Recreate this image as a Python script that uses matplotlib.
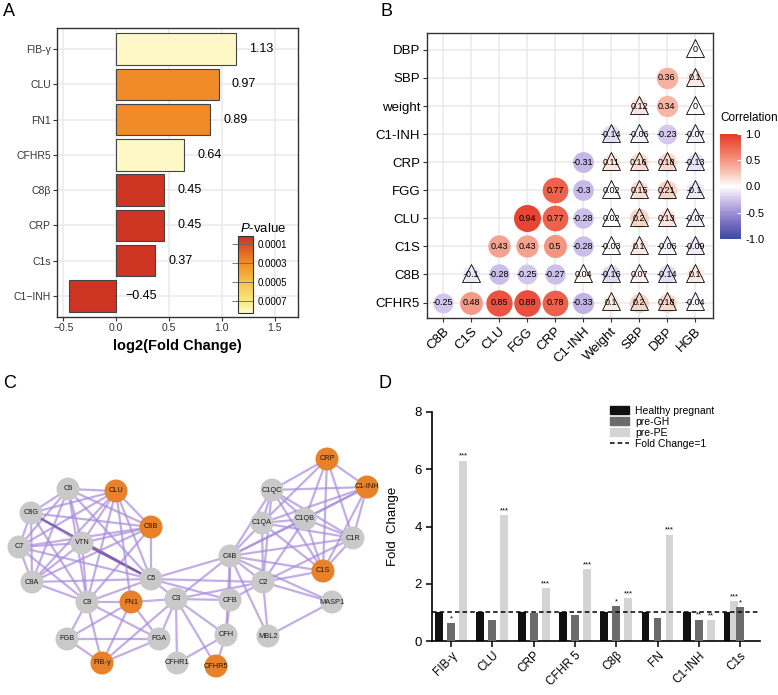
import numpy as np
import matplotlib
matplotlib.use("Agg")
import matplotlib.pyplot as plt
from matplotlib.colors import LinearSegmentedColormap, Normalize
from matplotlib.patches import Patch
from matplotlib.lines import Line2D
import matplotlib.colorbar as mcolorbar

plt.rcParams['font.family'] = ['Liberation Sans', 'DejaVu Sans']
plt.rcParams['mathtext.fontset'] = 'custom'
plt.rcParams['mathtext.rm'] = 'Liberation Sans'
plt.rcParams['mathtext.it'] = 'Liberation Sans:italic'

# ---------- data: panel A ----------
a_genes = ["FIB-γ", "CLU", "FN1", "CFHR5", "C8β", "CRP", "C1s", "C1\u2212INH"]
a_logfc = [1.13, 0.97, 0.89, 0.64, 0.45, 0.45, 0.37, -0.45]
a_pval = [0.00082, 0.0003, 0.0003, 0.00082, 0.00003, 0.00003, 0.00003, 0.00003]

# ---------- data: panel B ----------
b_rows = ["CFHR5", "C8B", "C1S", "CLU", "FGG", "CRP", "C1-INH", "weight", "SBP", "DBP"]
b_cols = ["C8B", "C1S", "CLU", "FGG", "CRP", "C1-INH", "Weight", "SBP", "DBP", "HGB"]
b_corr = [
    [-0.25, 0.48, 0.85, 0.88, 0.78, -0.33, 0.1, 0.2, 0.18, -0.04],
    [-0.1, -0.28, -0.25, -0.27, 0.04, -0.16, 0.07, -0.14, 0.1],
    [0.43, 0.43, 0.5, -0.28, -0.03, 0.1, -0.06, -0.09],
    [0.94, 0.77, -0.28, 0.02, 0.2, 0.13, -0.07],
    [0.77, -0.3, 0.02, 0.15, 0.21, -0.1],
    [-0.31, 0.11, 0.16, 0.18, -0.13],
    [-0.14, -0.06, -0.23, -0.07],
    [0.12, 0.34, 0],
    [0.36, 0.1],
    [0],
]
b_sig = [
    [1, 1, 1, 1, 1, 1, 0, 0, 0, 0],
    [0, 1, 1, 1, 0, 0, 0, 0, 0],
    [1, 1, 1, 1, 0, 0, 0, 0],
    [1, 1, 1, 0, 0, 0, 0],
    [1, 1, 0, 0, 0, 0],
    [1, 0, 0, 0, 0],
    [0, 0, 1, 0],
    [0, 1, 0],
    [1, 0],
    [0],
]

# ---------- data: panel C (network layout) ----------
c_names = ["C6", "CLU", "C8G", "C8B", "C7", "VTN", "C8A", "C5", "C9", "FN1", "C3",
           "FGB", "FGA", "FIB-γ", "CFHR1", "CRP", "C1QC", "C1-INH", "C1QA", "C1QB",
           "C1R", "C4B", "C1S", "C2", "CFB", "MASP1", "CFH", "MBL2", "CFHR5"]
c_x = [68, 116, 31, 151, 19, 82, 32, 151, 87, 131, 176, 67, 159, 102, 177,
       327, 272, 367, 262, 305, 353, 230, 323, 263, 230, 332, 226, 268, 216]
c_y = [489, 491, 513, 527, 547, 543, 582, 579, 602, 602, 599, 639, 639, 663, 663,
       459, 490, 487, 523, 519, 538, 556, 571, 582, 600, 602, 635, 636, 666]
c_hits = ["CLU", "C8B", "FN1", "FIB-γ", "CFHR5", "CRP", "C1-INH", "C1S"]
mac = ["C6", "CLU", "C8G", "C8B", "C7", "VTN", "C8A", "C5", "C9"]
c1 = ["CRP", "C1QC", "C1-INH", "C1QA", "C1QB", "C1R", "C1S", "C4B", "C2"]
c_edges = [(a, b) for i, a in enumerate(mac) for b in mac[i + 1:]]
c_edges += [(a, b) for i, a in enumerate(c1) for b in c1[i + 1:]
            if (a, b) not in [("CRP", "C4B"), ("CRP", "C2"), ("C1-INH", "C2")]]
c_edges += [("C5", "C3"), ("C5", "C4B"), ("C5", "C2"), ("C5", "CFB"),
            ("FN1", "C3"), ("FN1", "FGA"), ("FN1", "FGB"), ("FN1", "FIB-γ"), ("FN1", "CLU"), ("FN1", "C9"),
            ("C9", "FGB"), ("C9", "FIB-γ"), ("C9", "FGA"),
            ("FGB", "FGA"), ("FGB", "FIB-γ"), ("FGA", "FIB-γ"), ("C3", "FIB-γ"), ("C3", "FGA"),
            ("C3", "C4B"), ("C3", "C2"), ("C3", "CFB"), ("C3", "CFH"), ("C3", "CFHR5"), ("C3", "CFHR1"),
            ("CFHR1", "CFH"), ("C4B", "CFB"), ("C4B", "CFH"), ("C4B", "MBL2"), ("C4B", "MASP1"),
            ("C2", "CFB"), ("C2", "MASP1"), ("C2", "MBL2"), ("CFB", "CFH"), ("MBL2", "MASP1"),
            ("CFH", "CFHR5")]
c_strong = [("C8G", "C5"), ("VTN", "C5")]

# ---------- data: panel D ----------
d_groups = ["FIB-γ", "CLU", "CRP", "CFHR 5", "C8β", "FN", "C1-INH", "C1s"]
d_healthy = [1, 1, 1, 1, 1, 1, 1, 1]
d_gh = [0.62, 0.75, 0.98, 0.9, 1.22, 0.8, 0.75, 1.18]
d_pe = [6.3, 4.4, 1.85, 2.5, 1.5, 3.72, 0.72, 1.4]
d_gh_star = ["*", "", "", "", "*", "", "**", "*"]
d_pe_star = ["***", "***", "***", "***", "***", "***", "**", "***"]

W, H = 778, 695


def rect(l, t, r, b):
    return [l / W, 1 - b / H, (r - l) / W, (b - t) / H]


fig = plt.figure(figsize=(W / 100, H / 100), dpi=100)

# ================= panel A =================
pcmap = LinearSegmentedColormap.from_list(
    "pv", [(0, "#CC3222"), (0.35, "#F28C28"), (0.6, "#F5C24A"), (0.85, "#F8E97E"), (1, "#FFF9CC")])
pnorm = Normalize(0.00002, 0.00083)
axA = fig.add_axes(rect(57, 28, 298, 317))
ya = np.arange(len(a_genes))
axA.barh(ya, a_logfc, height=0.9, color=pcmap(pnorm(a_pval)), edgecolor="#444444", linewidth=0.8, zorder=3)
for y, v in zip(ya, a_logfc):
    axA.text(max(v, 0) + 0.24, y, f"{v:.2f}".replace("-", "\u2212"), ha="center", va="center", fontsize=9, zorder=4)
axA.set_xlim(-0.56, 1.72)
axA.set_ylim(len(a_genes) - 0.4, -0.6)
axA.set_yticks(ya)
axA.set_yticklabels(a_genes, fontsize=7.5, color="#333333")
axA.set_xticks([-0.5, 0, 0.5, 1.0, 1.5])
axA.set_xticklabels(["\u22120.5", "0.0", "0.5", "1.0", "1.5"], fontsize=7.5, color="#333333")
axA.tick_params(length=3, color="#333333", width=0.8, pad=1.5)
axA.grid(True, color="#EBEBEB", linewidth=1.2, zorder=0)
axA.set_axisbelow(True)
for s in axA.spines.values():
    s.set_color("#333333")
    s.set_linewidth(1.0)
axA.set_xlabel("log2(Fold Change)", fontsize=10.5, fontweight="bold", labelpad=4)
fig.text(3 / W, 1 - 11 / H, "A", fontsize=13, va="center")

caxA = fig.add_axes(rect(238, 236, 253, 313))
cbA = mcolorbar.ColorbarBase(caxA, cmap=pcmap, norm=pnorm, orientation="vertical")
cbA.set_ticks([0.0001, 0.0003, 0.0005, 0.0007])
cbA.set_ticklabels(["0.0001", "0.0003", "0.0005", "0.0007"])
caxA.invert_yaxis()
caxA.tick_params(labelsize=7, length=15, direction="in", color="#666666", width=0.6, pad=3)
cbA.outline.set_edgecolor("#333333")
cbA.outline.set_linewidth(0.8)
fig.text(240 / W, 1 - 229 / H, r"$P$-value", fontsize=9.5, va="center")

# ================= panel B =================
ccmap = LinearSegmentedColormap.from_list(
    "corr", [(0, "#3A4BA6"), (0.125, "#6C67BC"), (0.25, "#9E90D2"), (0.375, "#D0C5EC"),
             (0.5, "#FFFFFF"), (0.625, "#F9C8BA"), (0.75, "#F49683"), (0.875, "#EE6650"), (1, "#E53A2A")])
cnorm = Normalize(-1, 1)
axB = fig.add_axes(rect(427, 33, 713, 318))
for i, row in enumerate(b_corr):
    for k, v in enumerate(row):
        j = i + k
        d = 12.5 + 15 * np.sqrt(abs(v))
        axB.scatter(j, i, s=(d * 0.72) ** 2, color=ccmap(cnorm(v)), linewidths=0, zorder=2)
        if not b_sig[i][k]:
            axB.plot(j, i + 0.05, marker="^", markersize=13, mfc="none", mec="black", mew=0.6, zorder=3)
        axB.text(j, i, f"{v:g}", ha="center", va="center", fontsize=6.5, zorder=4)
axB.set_xlim(-0.58, 9.65)
axB.set_ylim(-0.55, 9.6)
axB.set_xticks(range(len(b_cols)))
axB.set_xticklabels(b_cols, rotation=45, ha="right", rotation_mode="anchor", fontsize=9.5)
axB.set_yticks(range(len(b_rows)))
axB.set_yticklabels(b_rows, fontsize=9.5)
axB.tick_params(length=3, color="#333333", width=0.8, pad=2)
axB.grid(True, color="#EBEBEB", linewidth=1.2, zorder=0)
axB.set_axisbelow(True)
for s in axB.spines.values():
    s.set_color("#333333")
    s.set_linewidth(1.0)
fig.text(380 / W, 1 - 12 / H, "B", fontsize=13, va="center")

caxB = fig.add_axes(rect(720, 134, 741, 239))
cbB = mcolorbar.ColorbarBase(caxB, cmap=ccmap, norm=cnorm, orientation="vertical")
cbB.set_ticks([-1, -0.5, 0, 0.5, 1])
cbB.set_ticklabels(["-1.0", "-0.5", "0.0", "0.5", "1.0"])
caxB.tick_params(labelsize=8, length=3, direction="in", color="white", width=0.8, pad=3)
cbB.outline.set_visible(False)
fig.text(720 / W, 1 - 118 / H, "Correlation", fontsize=8.5, va="center")

# ================= panel C =================
axC = fig.add_axes(rect(0, 370, 390, 695))
axC.set_xlim(0, 390)
axC.set_ylim(695, 370)
axC.axis("off")
pos = {n: (x, y) for n, x, y in zip(c_names, c_x, c_y)}
for a, b in c_edges:
    strong = (a, b) in c_strong or (b, a) in c_strong
    axC.plot([pos[a][0], pos[b][0]], [pos[a][1], pos[b][1]],
             color="#7A55AA" if strong else "#A88BDB", alpha=0.85 if strong else 0.7,
             linewidth=1.6, zorder=1, solid_capstyle="butt")
node_col = ["#E8822A" if n in c_hits else "#C9C9C9" for n in c_names]
axC.scatter(c_x, c_y, s=(23 * 0.72) ** 2, c=node_col, linewidths=0, zorder=2)
for n, x, y in zip(c_names, c_x, c_y):
    axC.text(x, y, n, ha="center", va="center", fontsize=5.3, color="#1A1A1A", zorder=3)
fig.text(3 / W, 1 - 383 / H, "C", fontsize=13, va="center")

# ================= panel D =================
axD = fig.add_axes(rect(432, 412, 760, 641))
xd = np.arange(len(d_groups))
off = 0.29
bw = 0.19
pe_off = np.array([-0.14 if g == "C1s" else off for g in d_groups])
axD.bar(xd - off, d_healthy, width=bw, color="#111111", zorder=2)
axD.bar(xd, d_gh, width=bw, color="#6B6B6B", zorder=3)
axD.bar(xd + pe_off, d_pe, width=bw, color="#D4D4D4", zorder=2)
for x, v, s in zip(xd, d_gh, d_gh_star):
    if s:
        axD.text(x, v + 0.03, s, ha="center", va="bottom", fontsize=5.5)
for x, v, s in zip(xd + pe_off, d_pe, d_pe_star):
    if s:
        axD.text(x, v + 0.03, s, ha="center", va="bottom", fontsize=5.5)
axD.axhline(1, color="black", linestyle=(0, (3, 2)), linewidth=1.1, zorder=4)
axD.set_xlim(-0.46, 7.48)
axD.set_ylim(0, 8)
axD.set_yticks([0, 2, 4, 6, 8])
axD.set_xticks(xd)
axD.set_xticklabels(d_groups, rotation=45, ha="right", rotation_mode="anchor", fontsize=8.5)
axD.tick_params(axis="y", labelsize=9.5, length=4, width=1.1)
axD.tick_params(axis="x", length=4, width=1.1, pad=2)
for s in ["top", "right"]:
    axD.spines[s].set_visible(False)
for s in ["left", "bottom"]:
    axD.spines[s].set_linewidth(1.2)
axD.set_ylabel("Fold  Change", fontsize=9.5)
axD.yaxis.set_label_coords(-0.1, 0.5)
handles = [Patch(color="#111111"), Patch(color="#6B6B6B"), Patch(color="#D4D4D4"),
           Line2D([0], [0], color="black", linestyle=(0, (3, 2)), linewidth=1.1)]
fig.legend(handles, ["Healthy pregnant", "pre-GH", "pre-PE", "Fold Change=1"],
           loc="upper left", bbox_to_anchor=(610 / W, 1 - 406 / H), frameon=False,
           fontsize=7.5, handlelength=1.8, handleheight=0.8, handletextpad=0.6,
           labelspacing=0.1, borderpad=0, borderaxespad=0)
fig.text(379 / W, 1 - 383 / H, "D", fontsize=13, va="center")

fig.savefig("out.png", dpi=100)
